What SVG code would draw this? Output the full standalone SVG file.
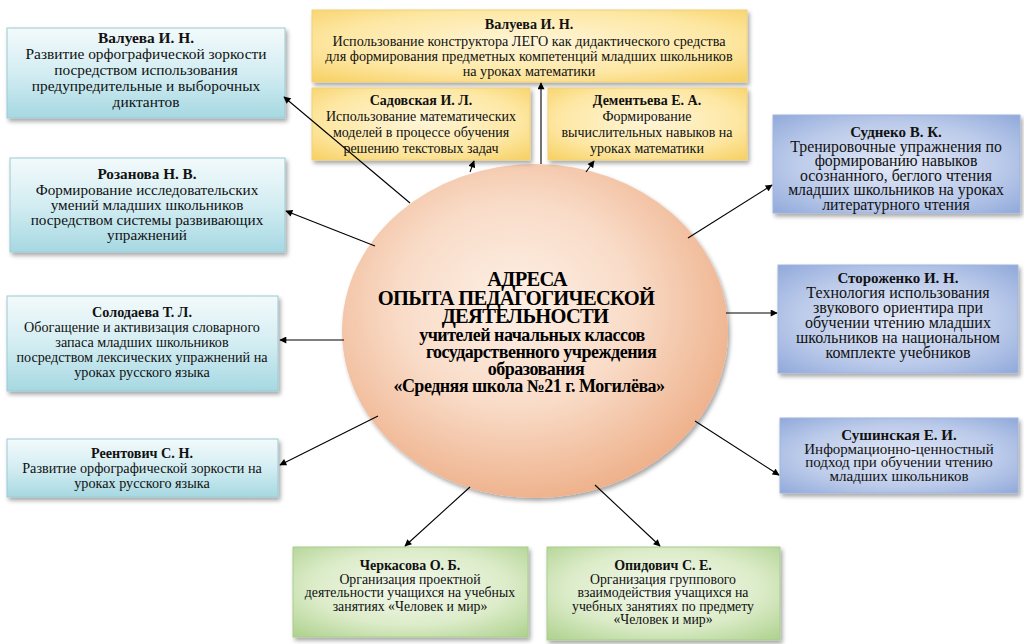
<svg xmlns="http://www.w3.org/2000/svg" width="1024" height="644" viewBox="0 0 1024 644">
<defs>
<linearGradient id="gBlueL" x1="0" y1="0" x2="0" y2="1">
<stop offset="0" stop-color="#f3fafb"/><stop offset="0.5" stop-color="#d3edf2"/><stop offset="1" stop-color="#a6d8e2"/>
</linearGradient>
<radialGradient id="gGold" cx="0.5" cy="0.45" r="0.75">
<stop offset="0" stop-color="#fff6d9"/><stop offset="0.6" stop-color="#fde7a3"/><stop offset="1" stop-color="#f7cf5f"/>
</radialGradient>
<radialGradient id="gBlueR" cx="0.5" cy="0.5" r="0.75">
<stop offset="0" stop-color="#e3e9f7"/><stop offset="0.55" stop-color="#bccbea"/><stop offset="1" stop-color="#8aa4d8"/>
</radialGradient>
<radialGradient id="gGreen" cx="0.5" cy="0.45" r="0.75">
<stop offset="0" stop-color="#f4f9ee"/><stop offset="0.55" stop-color="#dcecc9"/><stop offset="1" stop-color="#acd08c"/>
</radialGradient>
<radialGradient id="gPeach" cx="0.45" cy="0.42" r="0.6">
<stop offset="0" stop-color="#fdf0e6"/><stop offset="0.5" stop-color="#f9dcc8"/><stop offset="1" stop-color="#eeb08a"/>
</radialGradient>
<filter id="sh" x="-10%" y="-10%" width="125%" height="130%">
<feDropShadow dx="2" dy="3" stdDeviation="2" flood-color="#000" flood-opacity="0.35"/>
</filter>
<marker id="arr" viewBox="0 0 10 10" refX="9" refY="5" markerWidth="8" markerHeight="7" markerUnits="userSpaceOnUse" orient="auto">
<path d="M0,0 L10,5 L0,10 z" fill="#000"/>
</marker>
</defs>
<style>
.bl{fill:url(#gBlueL);stroke:#9ccad3;stroke-width:1}
.go{fill:url(#gGold);stroke:#f0d27a;stroke-width:1}
.br{fill:url(#gBlueR);stroke:#9fb3dd;stroke-width:1}
.gr{fill:url(#gGreen);stroke:#a9cc8c;stroke-width:1}
text{font-family:"Liberation Serif","Times New Roman",serif;font-size:14px;fill:#111;text-anchor:middle}
.t{font-weight:bold}
.c{font-weight:bold;font-size:20.5px;letter-spacing:-0.7px;fill:#000}
.cl{font-weight:bold;font-size:18px;letter-spacing:-0.5px;fill:#000}
.f15{font-size:15.4px}
.f152{font-size:15.2px}
.f142{font-size:14.2px}
.f158{font-size:15.8px}
.f16{font-size:16px}
.f15s{font-size:15px}
.f138{font-size:13.8px}
.conn line{stroke:#000;stroke-width:1.1;marker-end:url(#arr)}
</style>
<rect width="1024" height="644" fill="#fff"/>

<g id="center">
<ellipse cx="535" cy="331" rx="193" ry="167" fill="url(#gPeach)" filter="url(#sh)"/>
<text class="c" x="527" y="286">АДРЕСА</text>
<text class="c" x="516" y="305">ОПЫТА ПЕДАГОГИЧЕСКОЙ</text>
<text class="c" x="525" y="323">ДЕЯТЕЛЬНОСТИ</text>
<text class="cl" x="532" y="341">учителей начальных классов</text>
<text class="cl" x="541" y="358">государственного учреждения</text>
<text class="cl" x="536" y="375">образования</text>
<text class="cl" x="529" y="392">«Средняя школа №21 г. Могилёва»</text>
</g>

<g id="n-valueva-left">
<rect class="bl" x="7" y="28" width="278" height="90" filter="url(#sh)"/>
<text class="t f15" x="146" y="43">Валуева И. Н.</text>
<text class="f15" x="146" y="59">Развитие орфографической зоркости</text>
<text class="f15" x="146" y="75">посредством использования</text>
<text class="f15" x="146" y="91">предупредительные и выборочных</text>
<text class="f15" x="146" y="107">диктантов</text>
</g>
<g id="n-rozanova">
<rect class="bl" x="10" y="158" width="275" height="94" filter="url(#sh)"/>
<text class="t f152" x="147" y="179">Розанова Н. В.</text>
<text class="f152" x="147" y="195">Формирование исследовательских</text>
<text class="f152" x="147" y="210">умений младших школьников</text>
<text class="f152" x="147" y="225">посредством системы развивающих</text>
<text class="f152" x="147" y="240">упражнений</text>
</g>
<g id="n-solodaeva">
<rect class="bl" x="7" y="296" width="271" height="95" filter="url(#sh)"/>
<text class="t f142" x="142" y="317">Солодаева Т. Л.</text>
<text class="f142" x="142" y="332">Обогащение и активизация словарного</text>
<text class="f142" x="142" y="347">запаса младших школьников</text>
<text class="f142" x="142" y="362">посредством лексических упражнений на</text>
<text class="f142" x="142" y="377">уроках русского языка</text>
</g>
<g id="n-reentovich">
<rect class="bl" x="7" y="439" width="271" height="58" filter="url(#sh)"/>
<text class="t f142" x="142" y="458">Реентович С. Н.</text>
<text class="f142" x="142" y="473">Развитие орфографической зоркости на</text>
<text class="f142" x="142" y="488">уроках русского языка</text>
</g>

<g id="n-valueva-top">
<rect class="go" x="312" y="10" width="435" height="72" filter="url(#sh)"/>
<text class="t f142" x="529" y="29">Валуева И. Н.</text>
<text class="f142" x="529" y="46">Использование конструктора ЛЕГО как дидактического средства</text>
<text class="f142" x="529" y="61">для формирования предметных компетенций младших школьников</text>
<text class="f142" x="529" y="76">на уроках математики</text>
</g>
<g id="n-sadovskaya">
<rect class="go" x="312" y="88" width="218" height="72" filter="url(#sh)"/>
<text class="t" x="421" y="105">Садовская И. Л.</text>
<text x="421" y="121">Использование математических</text>
<text x="421" y="137">моделей в процессе обучения</text>
<text x="421" y="153">решению текстовых задач</text>
</g>
<g id="n-dementyeva">
<rect class="go" x="548" y="88" width="199" height="72" filter="url(#sh)"/>
<text class="t" x="647" y="105">Дементьева Е. А.</text>
<text x="647" y="121">Формирование</text>
<text x="647" y="137">вычислительных навыков на</text>
<text x="647" y="153">уроках математики</text>
</g>

<g id="n-sudneko">
<rect class="br" x="773" y="115" width="247" height="98" filter="url(#sh)"/>
<text class="t f15s" x="896" y="137">Суднеко В. К.</text>
<text class="f158" x="896" y="151.5">Тренировочные упражнения по</text>
<text class="f158" x="896" y="166">формированию навыков</text>
<text class="f158" x="896" y="180.5">осознанного, беглого чтения</text>
<text class="f158" x="896" y="195">младших школьников на уроках</text>
<text class="f158" x="896" y="209.5">литературного чтения</text>
</g>
<g id="n-storozhenko">
<rect class="br" x="778" y="265" width="240" height="108" filter="url(#sh)"/>
<text class="t f15s" x="898" y="283">Стороженко И. Н.</text>
<text class="f16" x="898" y="298">Технология использования</text>
<text class="f16" x="898" y="313">звукового ориентира при</text>
<text class="f16" x="898" y="328">обучении чтению младших</text>
<text class="f16" x="898" y="343">школьников на национальном</text>
<text class="f16" x="898" y="358">комплекте учебников</text>
</g>
<g id="n-sushinskaya">
<rect class="br" x="780" y="418" width="238" height="75" filter="url(#sh)"/>
<text class="t f15s" x="899" y="440">Сушинская Е. И.</text>
<text class="f15s" x="899" y="453.5">Информационно-ценностный</text>
<text class="f15s" x="899" y="467">подход при обучении чтению</text>
<text class="f15s" x="899" y="480.5">младших школьников</text>
</g>

<g id="n-cherkasova">
<rect class="gr" x="293" y="547" width="235" height="90" filter="url(#sh)"/>
<text class="t" x="410" y="570">Черкасова О. Б.</text>
<text class="f138" x="410" y="583.5">Организация проектной</text>
<text class="f138" x="410" y="597">деятельности учащихся на учебных</text>
<text class="f138" x="410" y="610.5">занятиях «Человек и мир»</text>
</g>
<g id="n-opidovich">
<rect class="gr" x="547" y="547" width="233" height="93" filter="url(#sh)"/>
<text class="t" x="663" y="570">Опидович С. Е.</text>
<text class="f138" x="663" y="583.5">Организация группового</text>
<text class="f138" x="663" y="597">взаимодействия учащихся на</text>
<text class="f138" x="663" y="610.5">учебных занятиях по предмету</text>
<text class="f138" x="663" y="624">«Человек и мир»</text>
</g>

<g id="connectors" class="conn">
<line x1="410" y1="203" x2="284" y2="97"/>
<line x1="375" y1="246" x2="286" y2="211"/>
<line x1="344" y1="340" x2="280" y2="340"/>
<line x1="378" y1="416" x2="280" y2="465"/>
<line x1="470" y1="487" x2="405" y2="546"/>
<line x1="595" y1="485" x2="660" y2="546"/>
<line x1="695" y1="421" x2="779" y2="475"/>
<line x1="726" y1="313" x2="777" y2="313"/>
<line x1="688" y1="238" x2="772" y2="185"/>
<line x1="541" y1="164" x2="541" y2="83"/>
<line x1="470" y1="172" x2="474" y2="161"/>
<line x1="586" y1="172" x2="594" y2="161"/>
</g>
</svg>
